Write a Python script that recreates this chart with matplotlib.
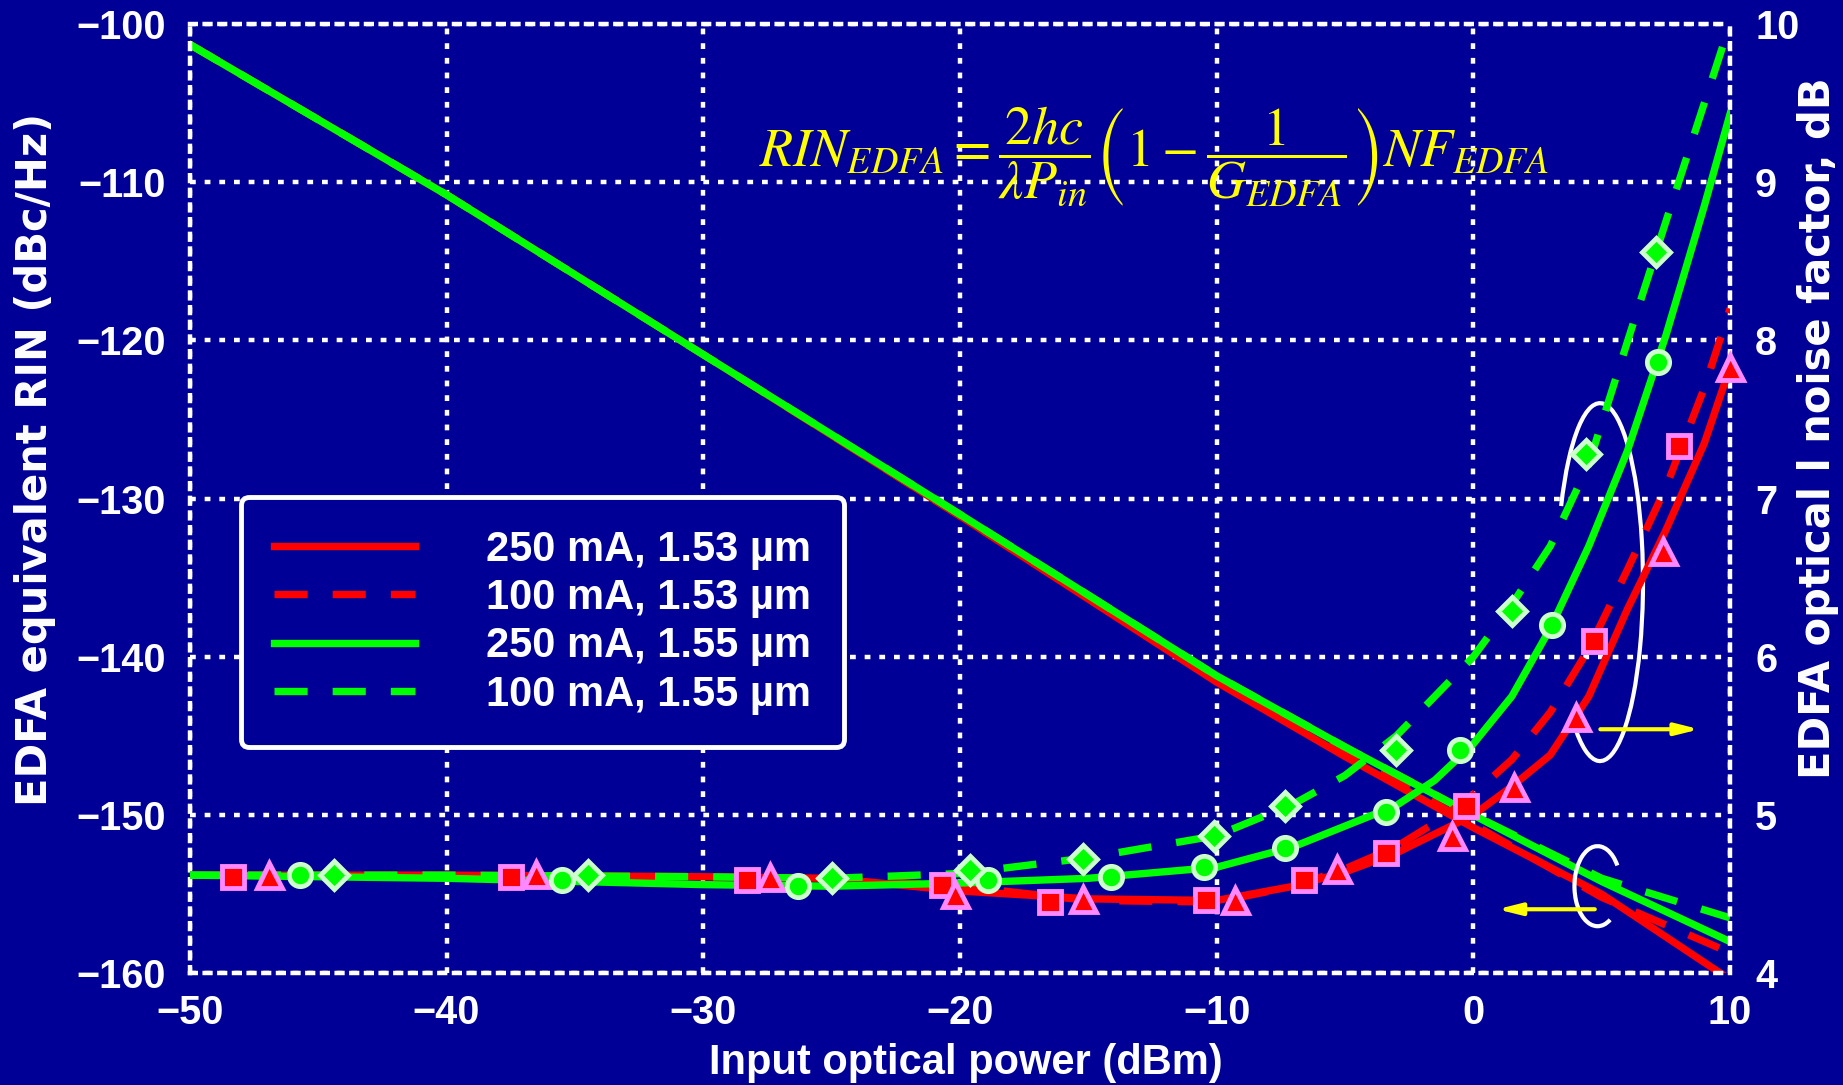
import numpy as np
import matplotlib
matplotlib.use('Agg')
from matplotlib import pyplot as plt
from matplotlib.patches import Arc

plt.rcParams['font.family'] = ['Liberation Sans', 'DejaVu Sans']
plt.rcParams['mathtext.fontset'] = 'stix'

# RIN curves (left axis, dBc/Hz)
rin_x = [-50, -40, -30, -20, -10, -5, 0, 5, 10]
rin_250_153 = [-101.3, -110.8, -120.9, -131.1, -141.6, -146.3, -150.8, -155.0, -160.4]
rin_100_153 = [-101.3, -110.8, -120.9, -131.1, -141.5, -146.1, -150.6, -155.2, -158.7]
rin_250_155 = [-101.3, -110.8, -120.9, -131.0, -141.2, -145.7, -150.0, -154.2, -158.0]
rin_100_155 = [-101.3, -110.8, -120.9, -131.0, -141.2, -145.7, -150.0, -154.0, -156.5]

# noise factor curves (right axis, dB)
nf_x = [-50, -40, -30, -25, -20, -15, -10, -7, -5, -3, -1.5, 0, 1.5, 3, 4.5, 6, 7.5, 9, 10]
nf_250_153 = [4.62, 4.62, 4.61, 4.60, 4.52, 4.47, 4.46, 4.55, 4.64, 4.76, 4.88, 5.00, 5.18, 5.38, 5.75, 6.30, 6.80, 7.35, 7.83]
nf_100_153 = [4.62, 4.62, 4.61, 4.60, 4.55, 4.46, 4.45, 4.55, 4.66, 4.80, 4.95, 5.13, 5.35, 5.65, 6.05, 6.55, 7.07, 7.70, 8.20]
nf_250_155 = [4.62, 4.60, 4.56, 4.55, 4.57, 4.60, 4.67, 4.80, 4.93, 5.06, 5.22, 5.45, 5.75, 6.18, 6.70, 7.30, 8.03, 8.85, 9.43]
nf_100_155 = [4.62, 4.62, 4.61, 4.60, 4.63, 4.73, 4.87, 5.07, 5.25, 5.50, 5.75, 6.00, 6.33, 6.70, 7.22, 7.99, 8.75, 9.50, 10.0]

# measured points
sq_x = [-48.3, -37.5, -28.3, -20.7, -16.5, -10.4, -6.6, -3.4, -0.3, 4.7, 8.0]
sq_y = [4.61, 4.61, 4.59, 4.56, 4.45, 4.46, 4.59, 4.76, 5.06, 6.10, 7.33]
tri_x = [-46.9, -36.5, -27.4, -20.2, -15.2, -9.3, -5.3, -0.85, 1.6, 4.0, 7.4, 10.0]
tri_y = [4.62, 4.63, 4.61, 4.50, 4.47, 4.46, 4.66, 4.87, 5.18, 5.62, 6.67, 7.83]
circ_x = [-45.7, -35.5, -26.3, -18.9, -14.1, -10.5, -7.35, -3.4, -0.5, 3.05, 7.2]
circ_y = [4.62, 4.59, 4.55, 4.59, 4.61, 4.67, 4.79, 5.02, 5.41, 6.20, 7.86]
dia_x = [-44.4, -34.5, -25.0, -19.6, -15.2, -10.1, -7.35, -3.0, 1.5, 4.4, 7.1]
dia_y = [4.62, 4.62, 4.60, 4.65, 4.72, 4.87, 5.06, 5.41, 6.29, 7.28, 8.56]

labels = ['250 mA, 1.53 \u00b5m', '100 mA, 1.53 \u00b5m', '250 mA, 1.55 \u00b5m', '100 mA, 1.55 \u00b5m']

bg = '#000096'
red = '#ff0000'
green = '#00ff00'
pink = '#ff88ff'
lgreen = '#ccffcc'
dash = (0, (4.5, 3.4))
dots = (0, (1.3, 2.0))

fig = plt.figure(figsize=(18.43, 10.85), dpi=100, facecolor=bg)
ax = fig.add_axes([0.103, 0.103, 0.8357, 0.875])
ax.set_facecolor(bg)

l1, = ax.plot(rin_x, rin_250_153, color=red, lw=5.3)
l2, = ax.plot(rin_x, rin_100_153, color=red, lw=5.3, linestyle=dash)
l3, = ax.plot(rin_x, rin_250_155, color=green, lw=5.3)
l4, = ax.plot(rin_x, rin_100_155, color=green, lw=5.3, linestyle=dash)

ax.set_xlim(-50, 10)
ax.set_ylim(-160, -100)
ax.set_xticks(range(-50, 11, 10))
ax.set_yticks(range(-160, -99, 10))
ax.grid(True, color='white', linestyle=dots, linewidth=3.2)
for s in ax.spines.values():
    s.set_color('white')
    s.set_linestyle(dots)
    s.set_linewidth(3.2)
ax.tick_params(length=0, colors='white', labelsize=28.5)
ax.tick_params(axis='x', pad=15)
ax.tick_params(axis='y', pad=17)
plt.setp(ax.get_xticklabels() + ax.get_yticklabels(), fontweight='bold')
ax.set_xlabel('Input optical power (dBm)', color='white', fontsize=30, fontweight='bold')
ax.xaxis.set_label_coords(0.504, -0.073)
ax.set_ylabel('EDFA equivalent RIN (dBc/Hz)', color='white', fontsize=30, fontweight='bold',
              family=['DejaVu Sans'])
ax.yaxis.set_label_coords(-0.087, 0.541)

ax2 = ax.twinx()
ax2.set_ylim(4, 10)
ax2.set_yticks(range(4, 11))
for s in ax2.spines.values():
    s.set_visible(False)
ax2.tick_params(length=0, colors='white', labelsize=28.5, pad=18)
plt.setp(ax2.get_yticklabels(), fontweight='bold')
ax2.set_ylabel('EDFA optical l noise factor, dB', color='white', fontsize=30, fontweight='bold',
               family=['DejaVu Sans'])
ax2.yaxis.set_label_coords(1.0435, 0.574)

ax2.plot(nf_x, nf_250_153, color=red, lw=5.3)
ax2.plot(nf_x, nf_100_153, color=red, lw=5.3, linestyle=dash)
ax2.plot(nf_x, nf_250_155, color=green, lw=5.3)
ax2.plot(nf_x, nf_100_155, color=green, lw=5.3, linestyle=dash)

ax2.plot(sq_x, sq_y, 's', ms=16, mfc=red, mec=pink, mew=3.5, clip_on=False)
ax2.plot(tri_x, tri_y, '^', ms=18, mfc=red, mec=pink, mew=3.5, clip_on=False)
ax2.plot(circ_x, circ_y, 'o', ms=16, mfc=green, mec=lgreen, mew=3.5, clip_on=False)
ax2.plot(dia_x, dia_y, 'D', ms=14, mfc=green, mec=lgreen, mew=3.5, clip_on=False)

leg = ax2.legend([l1, l2, l3, l4], labels, loc='upper left', bbox_to_anchor=(0.033, 0.502),
                 borderaxespad=0, prop={'size': 30, 'weight': 'bold'}, handlelength=3.4,
                 handletextpad=1.7, labelspacing=0.2, borderpad=0.79, fancybox=True,
                 facecolor=bg, edgecolor='white', framealpha=1)
leg.get_frame().set_linewidth(3.5)
for t in leg.get_texts():
    t.set_color('white')

ax2.text(0.626, 0.86,
         r'$RIN_{EDFA}=\dfrac{2hc}{\lambda P_{in}}\left(1-\dfrac{1}{G_{EDFA}}\right)NF_{EDFA}$',
         transform=ax2.transAxes, ha='center', va='center', color='yellow', fontsize=39)

ax2.add_patch(Arc((0.9156, 0.412), 0.0558, 0.377, theta1=263.5, theta2=107.5,
                  transform=ax2.transAxes, color='white', lw=3))
ax2.add_patch(Arc((0.914, 0.0917), 0.030, 0.0843, theta1=59.5, theta2=283,
                  transform=ax2.transAxes, color='white', lw=3))
ax2.annotate('', xy=(0.982, 0.257), xytext=(0.914, 0.257), xycoords='axes fraction',
             arrowprops=dict(arrowstyle='-|>,head_length=1.4,head_width=0.35', color='yellow', lw=3))
ax2.annotate('', xy=(0.847, 0.0674), xytext=(0.914, 0.0674), xycoords='axes fraction',
             arrowprops=dict(arrowstyle='-|>,head_length=1.4,head_width=0.35', color='yellow', lw=3))

fig.savefig('out.png', dpi=100, facecolor=bg)
